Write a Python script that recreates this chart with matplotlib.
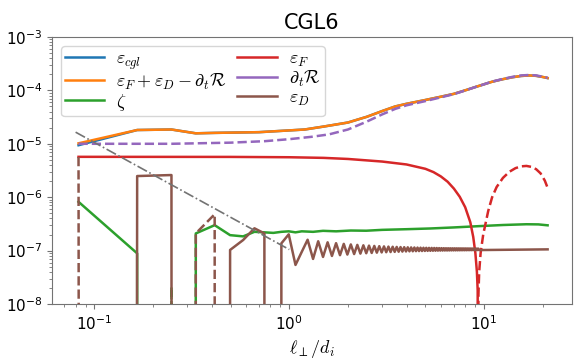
import numpy as np
import matplotlib
matplotlib.use("Agg")
import matplotlib.pyplot as plt

plt.rcParams['mathtext.fontset'] = 'cm'

sum_l = [0.0828, 0.1656, 0.2484, 0.3312, 0.414, 0.7, 1.0, 1.2, 1.5, 2.0, 2.5, 3.0, 3.5, 4.0,
         5.0, 6.0, 7.0, 8.0, 9.0, 10.0, 11.0, 12.5, 14.0, 15.5, 17.0, 18.5, 20.0, 21.197]
sum_v = [1.02e-5, 1.81e-5, 1.85e-5, 1.57e-5, 1.6e-5, 1.65e-5, 1.78e-5, 1.85e-5, 2.1e-5, 2.5e-5,
         3.2e-5, 4.1e-5, 5.0e-5, 5.6e-5, 6.6e-5, 7.6e-5, 8.6e-5, 1.0e-4, 1.15e-4, 1.3e-4,
         1.45e-4, 1.62e-4, 1.76e-4, 1.86e-4, 1.9e-4, 1.87e-4, 1.78e-4, 1.7e-4]
cgl_v = [9.4e-6] + sum_v[1:]

zeta_l = [0.0828, 0.1656, 0.2484, 0.3312, 0.414, 0.4968, 0.5796, 0.6624, 0.7452, 0.828,
          0.9108, 0.9936, 1.0764, 1.1592, 1.3248, 1.4904, 1.7388, 2.07, 2.484, 3.0, 4.0,
          5.3, 7.0, 9.5, 12.5, 16.5, 19.0, 21.197]
zeta_v = [8.2e-7, 8.9e-8, -2.1e-8, 2.1e-7, 3.0e-7, 1.95e-7, 1.85e-7, 2.25e-7, 2.2e-7, 2.15e-7,
          2.25e-7, 2.3e-7, 2.2e-7, 2.3e-7, 2.25e-7, 2.35e-7, 2.3e-7, 2.38e-7, 2.36e-7, 2.45e-7,
          2.52e-7, 2.6e-7, 2.72e-7, 2.88e-7, 3.02e-7, 3.12e-7, 3.1e-7, 2.98e-7]

ef_l = [0.0828, 0.5, 1.0, 1.5, 2.0, 3.0, 4.0, 5.0, 5.5, 6.0, 6.5, 7.0, 7.5, 8.0, 8.5, 8.8, 9.025,
        9.19, 9.274, 9.356, 9.439, 9.6, 9.9, 10.5, 11.0, 11.6, 12.5, 13.5, 14.5, 15.5, 16.5,
        17.5, 18.5, 19.5, 20.5, 21.197]
ef_v = [5.7e-6, 5.68e-6, 5.6e-6, 5.45e-6, 5.2e-6, 4.65e-6, 4.1e-6, 3.4e-6, 2.95e-6, 2.45e-6,
        1.95e-6, 1.45e-6, 1.02e-6, 6.5e-7, 3.4e-7, 1.8e-7, 9e-8, 4e-8, 1.8e-8, -1.5e-8, -4e-8,
        -9e-8, -2e-7, -5.5e-7, -1.0e-6, -1.55e-6, -2.3e-6, -3.0e-6, -3.5e-6, -3.78e-6, -3.85e-6,
        -3.7e-6, -3.35e-6, -2.8e-6, -2.05e-6, -1.5e-6]

dtr_l = [0.0828, 0.1656, 0.2484, 0.3312, 0.5, 0.75, 1.0, 1.3, 1.6, 2.0, 2.5, 3.0, 3.5, 4.0,
         5.0, 6.0, 7.0, 8.0, 9.0, 10.0, 11.0, 12.5, 14.0, 15.5, 17.0, 18.5, 20.0, 21.197]
dtr_v = [-1.0e-5, -1.0e-5, -1.0e-5, -1.02e-5, -1.05e-5, -1.12e-5, -1.22e-5, -1.35e-5, -1.5e-5,
         -1.85e-5, -2.6e-5, -3.55e-5, -4.5e-5, -5.25e-5, -6.3e-5, -7.4e-5, -8.5e-5, -9.95e-5,
         -1.15e-4, -1.3e-4, -1.46e-4, -1.635e-4, -1.79e-4, -1.9e-4, -1.94e-4, -1.905e-4,
         -1.8e-4, -1.715e-4]

ed_l = [0.0828, 0.1656, 0.2484, 0.3312, 0.414, 0.4968, 0.5796, 0.6624, 0.7452, 0.828,
        0.9108, 0.9936, 1.0764, 1.1592, 1.242, 1.3248, 1.4076, 1.4904, 1.5732, 1.656,
        1.7388, 1.8216, 1.9044, 1.9872, 2.07, 2.1528, 2.2356, 2.3184, 2.4012, 2.484,
        2.5668, 2.6496, 2.7324, 2.8152, 2.898, 2.9808, 3.0636, 3.1464, 3.2292, 3.312,
        3.3948, 3.4776, 3.5604, 3.6432, 3.726, 3.8088, 3.8916, 3.9744, 4.0572, 4.14,
        4.2228, 4.3056, 4.3884, 4.4712, 4.554, 4.6368, 4.7196, 4.8024, 4.8852, 4.968,
        5.0508, 5.1336, 5.2164, 5.2992, 5.382, 5.4648, 5.5476, 5.6304, 5.7132, 5.796,
        5.8788, 5.9616, 6.0444, 6.1272, 6.21, 6.2928, 6.3756, 6.4584, 6.5412, 6.624,
        6.7068, 6.7896, 6.8724, 6.9552, 7.038, 7.1208, 7.2036, 7.2864, 7.3692, 7.452,
        7.5348, 7.6176, 7.7004, 7.7832, 7.866, 7.9488, 8.0316, 8.1144, 8.1972, 8.28,
        8.3628, 8.4456, 8.5284, 8.6112, 8.694, 8.7768, 8.8596, 8.9424, 9.0252, 9.108,
        9.1908, 9.2736, 9.3564, 9.4392, 21.197]
ed_v = [-5.66e-6, 2.49e-6, 2.6e-6, -2.1e-7, -4.8e-7, 1.03e-7, 1.58e-7, 2.62e-7, 2.1e-7, 0.0,
        1.37e-7, 2.02e-7, 5.4e-8, 9.5e-8, 1.60e-7, 7.0e-8, 1.50e-7, 7.62e-8, 1.434e-7, 7.95e-8,
        1.381e-7, 8.22e-8, 1.340e-7, 8.44e-8, 1.308e-7, 8.63e-8, 1.282e-7, 8.79e-8, 1.260e-7, 8.94e-8,
        1.242e-7, 9.05e-8, 1.226e-7, 9.16e-8, 1.213e-7, 9.26e-8, 1.202e-7, 9.34e-8, 1.191e-7, 9.41e-8,
        1.183e-7, 9.48e-8, 1.174e-7, 9.54e-8, 1.167e-7, 9.60e-8, 1.161e-7, 9.65e-8, 1.155e-7, 9.70e-8,
        1.150e-7, 9.73e-8, 1.146e-7, 9.78e-8, 1.141e-7, 9.81e-8, 1.137e-7, 9.84e-8, 1.133e-7, 9.87e-8,
        1.130e-7, 9.90e-8, 1.127e-7, 9.92e-8, 1.125e-7, 9.95e-8, 1.122e-7, 9.97e-8, 1.120e-7, 1.000e-7,
        1.116e-7, 1.002e-7, 1.114e-7, 1.004e-7, 1.112e-7, 1.006e-7, 1.110e-7, 1.006e-7, 1.109e-7, 1.008e-7,
        1.107e-7, 1.010e-7, 1.106e-7, 1.011e-7, 1.105e-7, 1.012e-7, 1.104e-7, 1.013e-7, 1.103e-7, 1.014e-7,
        1.102e-7, 1.015e-7, 1.101e-7, 1.016e-7, 1.100e-7, 1.017e-7, 1.099e-7, 1.018e-7, 1.098e-7, 1.019e-7,
        1.097e-7, 1.020e-7, 1.096e-7, 1.021e-7, 1.095e-7, 1.022e-7, 1.094e-7, 1.023e-7, 1.093e-7, 1.024e-7,
        1.092e-7, 1.025e-7, 1.091e-7, 1.026e-7, 1.057e-7]

# l^-2 guide line
ref_l = [0.08, 1.0]
ref_v = [1.65e-5, 1.05e-7]

series = [
    (sum_l, cgl_v, r'$\varepsilon_{cgl}$', 'C0'),
    (sum_l, sum_v, r'$\varepsilon_F+\varepsilon_D-\partial_t\mathcal{R}$', 'C1'),
    (zeta_l, zeta_v, r'$\zeta$', 'C2'),
    (ef_l, ef_v, r'$\varepsilon_F$', 'C3'),
    (dtr_l, dtr_v, r'$\partial_t\mathcal{R}$', 'C4'),
    (ed_l, ed_v, r'$\varepsilon_D$', 'C5'),
]

fig = plt.figure(figsize=(5.86, 3.62), dpi=100)
ax = fig.add_axes([0.0887, 0.160, 0.887, 0.738])
ax.set_xscale('log', nonpositive='clip')
ax.set_yscale('log', nonpositive='clip')

for l, v, label, col in series:
    v = np.asarray(v)
    # positive part solid, negative part (absolute value) dashed
    ax.plot(l, np.where(v > 0, v, 0.0), color=col, lw=1.8, label=label)
    ax.plot(l, np.where(v < 0, -v, 0.0), color=col, lw=1.8, ls='--')

ax.plot(ref_l, ref_v, color='0.45', lw=1.2, ls='-.')

ax.set_xlim(0.0605, 28.2)
ax.set_ylim(1e-8, 1e-3)
ax.set_title('CGL6', fontsize=15)
ax.set_xlabel(r'$\ell_\perp/d_i$', fontsize=13)
for s in ax.spines.values():
    s.set_color('0.45')
ax.tick_params(which='both', colors='0.45', labelcolor='black', labelsize=11)
ax.legend(loc='upper left', ncol=2, fontsize=13, handlelength=2.2, handletextpad=0.65,
          labelspacing=0.0, borderpad=0.2, columnspacing=0.6)

fig.savefig('out.png', dpi=100)
